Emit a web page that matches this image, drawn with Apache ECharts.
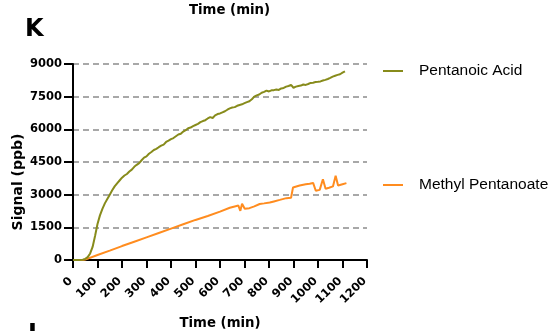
<!DOCTYPE html>
<html>
<head>
<meta charset="utf-8">
<script src="https://cdn.jsdelivr.net/npm/echarts@6/dist/echarts.min.js"></script>
<style>
html,body{margin:0;padding:0;background:#fff;}
#chart{width:557px;height:331px;}
</style>
</head>
<body>
<div id="chart"></div>
<script>
var seriesNames = ['Pentanoic Acid', 'Methyl Pentanoate'];
var xTicks = [0,100,200,300,400,500,600,700,800,900,1000,1100,1200];
var yTicks = [0,1500,3000,4500,6000,7500,9000];

var acidTime = [0,20,40,50,60,70,80,90,100,110,120,130,140,150,160,170,180,190,200,210,220,230,240,250,260,270,280,290,300,310,320,330,340,350,360,370,380,390,400,410,420,430,440,450,460,470,480,490,500,510,520,530,540,550,560,570,580,590,600,610,620,630,640,650,660,670,680,690,700,710,720,730,740,750,760,770,780,790,800,810,820,830,840,850,860,870,880,890,900,910,920,930,940,950,960,970,980,990,1000,1010,1020,1030,1040,1050,1060,1070,1080,1090,1100,1110];
var acidSignal = [0,0,10,50,130,300,600,1100,1650,2050,2350,2600,2800,3000,3200,3380,3520,3650,3780,3880,3950,4060,4150,4280,4370,4450,4580,4700,4760,4880,4960,5050,5100,5180,5250,5300,5420,5480,5550,5600,5680,5760,5800,5900,5960,6050,6080,6150,6200,6250,6330,6380,6420,6500,6560,6520,6640,6700,6730,6780,6830,6900,6960,7000,7020,7080,7120,7150,7200,7250,7290,7380,7500,7560,7600,7680,7720,7780,7740,7790,7800,7830,7810,7880,7900,7960,7990,8040,7910,7960,7990,8010,8060,8040,8080,8130,8140,8170,8180,8200,8240,8270,8310,8360,8420,8460,8500,8530,8600,8660];

var esterTime = [0,40,50,100,150,200,250,300,350,400,450,500,550,600,640,660,675,683,690,701,720,740,762,780,803,820,844,871,890,898,925,950,966,980,991,1007,1020,1031,1045,1061,1072,1082,1100,1116];
var esterSignal = [0,0,20,230,430,640,840,1040,1240,1440,1640,1840,2020,2220,2400,2460,2500,2260,2580,2350,2380,2460,2570,2600,2640,2690,2760,2840,2860,3330,3420,3480,3500,3540,3180,3220,3710,3270,3320,3380,3870,3420,3480,3530];

function pairs(t, v){ return t.map(function(x,i){ return [x, v[i]]; }); }

var boldFont = "'DejaVu Sans', sans-serif";
var legFont = "'Liberation Sans', Arial, sans-serif";
var chart = echarts.init(document.getElementById('chart'));
chart.setOption({
  animation: false,
  backgroundColor: '#fff',
  grid: { left: 73, top: 64, width: 294, height: 196, containLabel: false, outerBoundsMode: 'none' },
  xAxis: {
    type: 'value', min: 0, max: 1200, interval: 100,
    name: 'Time (min)', nameLocation: 'middle', nameGap: 57,
    nameTextStyle: { fontFamily: boldFont, fontWeight: 'bold', fontSize: 13.3, color: '#000' },
    axisLine: { show: true, lineStyle: { color: '#000', width: 2 } },
    axisTick: { show: true, length: 8, lineStyle: { color: '#000', width: 2 } },
    axisLabel: { rotate: 45, fontFamily: boldFont, fontWeight: 'bold', fontSize: 11.5, color: '#000', margin: 17,
      padding: [0, 3, 0, 0],
      formatter: function(v){ return xTicks.indexOf(v) >= 0 ? String(v) : ''; } },
    splitLine: { show: false }
  },
  yAxis: {
    type: 'value', min: 0, max: 9000, interval: 1500,
    axisLine: { show: true, lineStyle: { color: '#000', width: 2 } },
    axisTick: { show: true, length: 9, lineStyle: { color: '#000', width: 2 } },
    axisLabel: { fontFamily: boldFont, fontWeight: 'bold', fontSize: 11.5, color: '#000', margin: 11,
      formatter: function(v){ return yTicks.indexOf(v) >= 0 ? String(v) : ''; } },
    splitLine: { show: true, lineStyle: { color: '#a8a8a8', width: 2, type: [6, 4] } }
  },
  legend: [
    { data: [seriesNames[0]], left: 378, top: 58, orient: 'vertical', icon: 'rect', itemWidth: 20, itemHeight: 2,
      textStyle: { fontFamily: legFont, fontSize: 15.5, lineHeight: 16, color: '#000', padding: [0,0,0,11] } },
    { data: [seriesNames[1]], left: 378, top: 172, orient: 'vertical', icon: 'rect', itemWidth: 20, itemHeight: 2,
      textStyle: { fontFamily: legFont, fontSize: 15.5, lineHeight: 16, color: '#000', padding: [0,0,0,11] } }
  ],
  graphic: [
    { type: 'text', x: 25, y: 30, style: { text: 'K', font: "bold 24px 'DejaVu Sans'", fill: '#000', align: 'left', verticalAlign: 'middle' } },
    { type: 'text', x: 229.5, y: 11, style: { text: 'Time (min)', font: "bold 13.3px 'DejaVu Sans'", fill: '#000', align: 'center', verticalAlign: 'middle' } },
    { type: 'text', x: 18, y: 182, rotation: Math.PI / 2, style: { text: 'Signal (ppb)', font: "bold 14px 'DejaVu Sans'", fill: '#000', align: 'center', verticalAlign: 'middle' } },
    { type: 'text', x: 28, y: 335, style: { text: 'L', font: "bold 24px 'DejaVu Sans'", fill: '#000', align: 'left', verticalAlign: 'middle' } }
  ],
  series: [
    { name: seriesNames[0], type: 'line', data: pairs(acidTime, acidSignal), showSymbol: false, symbol: 'none',
      lineStyle: { color: '#878b1b', width: 2 }, itemStyle: { color: '#878b1b' }, z: 3 },
    { name: seriesNames[1], type: 'line', data: pairs(esterTime, esterSignal), showSymbol: false, symbol: 'none',
      lineStyle: { color: '#ff8c1f', width: 2 }, itemStyle: { color: '#ff8c1f' }, z: 2 }
  ]
});
</script>
</body>
</html>
